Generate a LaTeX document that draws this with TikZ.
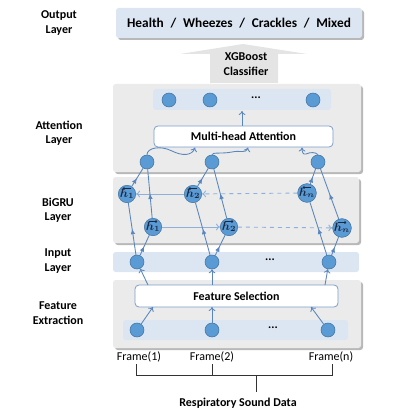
\documentclass[tikz,border=0pt]{standalone}
\usepackage{fontspec}
\setmainfont{Carlito}
\usetikzlibrary{arrows.meta,decorations.markings}
\definecolor{panelgray}{HTML}{EBEBEB}
\definecolor{panelshadow}{HTML}{B8B8B8}
\definecolor{paleblue}{HTML}{DCE6F2}
\definecolor{nodeblue}{HTML}{5B9BD5}
\definecolor{nodeedge}{HTML}{41719C}
\definecolor{linkblue}{HTML}{5A86BE}
\definecolor{lightlink}{HTML}{8EB0DA}
\definecolor{arrowgray}{HTML}{E4E4E4}
\definecolor{hlabel}{HTML}{1B2A44}
\tikzset{
  panel/.style={fill=panelgray,rounded corners=2pt},
  panelshade/.style={fill=panelshadow,rounded corners=2pt},
  bluepanel/.style={fill=paleblue,rounded corners=2pt},
  whitebox/.style={draw=linkblue!80,fill=white,rounded corners=3pt,line width=0.6pt,font=\bfseries\fontsize{9}{10}\selectfont},
  dotnode/.style={circle,fill=nodeblue,draw=nodeedge,line width=0.4pt,minimum size=10.5pt,inner sep=0pt},
  hnode/.style={circle,fill=nodeblue,draw=nodeedge,line width=0.4pt,minimum size=13pt,inner sep=0pt,text=hlabel,font=\fontsize{9}{9}\selectfont\boldmath},
  layerlabel/.style={align=center,font=\bfseries\fontsize{9}{10.8}\selectfont},
  link/.style={draw=linkblue,line width=0.65pt},
  midarr/.style={postaction={decorate},decoration={markings,mark=at position #1 with {\arrow{Latex[length=4pt,width=3.5pt]}}}},
  hlink/.style={draw=lightlink,line width=0.65pt,-{To[length=3pt,width=5pt]}},
  openarr/.style={draw=linkblue,line width=0.65pt,-{To[length=3pt,width=5pt]}},
  ovl/.style={draw=hlabel,line width=0.45pt},
  ellip/.style={font=\bfseries\fontsize{9}{9}\selectfont},
}
\begin{document}
\begin{tikzpicture}[x=0.75pt,y=-0.75pt]
\useasboundingbox (0,0) rectangle (411,417);
% left labels
\node[layerlabel] (lOut) at (59,23) {Output\\Layer};
\node[layerlabel] (lAtt) at (59,133) {Attention\\Layer};
\node[layerlabel] (lBi) at (58,210) {BiGRU\\Layer};
\node[layerlabel] (lIn) at (58,261) {Input\\Layer};
\node[layerlabel] (lFe) at (58,313) {Feature\\Extraction};
% output box
\fill[panelshade] (118,10) rectangle (364,40);
\fill[bluepanel] (116,8) rectangle (362,38);
\node[font=\bfseries\fontsize{10}{11}\selectfont] (outtxt) at (239,23) {Health \;/\; Wheezes \;/\; Crackles \;/\; Mixed};
% big arrow
\fill[arrowgray] (210,83) -- (210,54) -- (180,54) -- (243,44) -- (307,54) -- (278,54) -- (278,83) -- cycle;
\node[layerlabel] (xgb) at (246,64) {XGBoost\\Classifier};
% attention panel
\fill[panelshade] (115,86) rectangle (363,174);
\fill[panel] (113,84) rectangle (361,172);
\fill[bluepanel] (153,89) rectangle (331,110);
\node[dotnode] (a1) at (169,100) {};
\node[dotnode] (a2) at (210,100) {};
\node[ellip] (adots) at (256,98) {...};
\node[dotnode] (a3) at (313,100) {};
\node[whitebox,minimum width=179*0.75pt,minimum height=21*0.75pt] (mha) at (243.5,136.5) {Multi-head Attention};
\coordinate (atop) at (242,111);
\draw[openarr] (mha.north -| atop) -- (atop);
\node[dotnode] (c1) at (147,162) {};
\node[dotnode] (c2) at (212,162) {};
\node[dotnode] (c3) at (318,162) {};
\coordinate (m1) at (195,147.5);
\coordinate (m2) at (248,147.5);
\coordinate (m3) at (302,147.5);
\draw[openarr] (c1.north) .. controls (147,148) and (160,145) .. (172,151) .. controls (182,156) and (192,156) .. (m1);
\draw[openarr] (c2.north) .. controls (212,152) and (222,154) .. (232,152) .. controls (240,150) and (246,154) .. (m2);
\draw[openarr] (c3.north) .. controls (316,152) and (310,152) .. (306,154) .. controls (303,155) and (302,152) .. (m3);
% BiGRU panel
\fill[panelshade] (115,179) rectangle (361,245);
\fill[panel] (113,177) rectangle (359,243);
% input panel
\fill[bluepanel] (113,252) rectangle (359,272);
% feature panel
\fill[panelshade] (115,282) rectangle (363,350);
\fill[panel] (113,280) rectangle (361,348);
\fill[bluepanel] (123,320) rectangle (348,340);
% BiGRU nodes
\node[hnode] (b1) at (127,194) {$h_1$};
\node[hnode] (b2) at (193,194) {$h_2$};
\node[hnode] (bn) at (307,193) {$h_n$};
\node[hnode] (f1) at (153,227) {$h_1$};
\node[hnode] (f2) at (229,227) {$h_2$};
\node[hnode] (fn) at (342,228) {$h_n$};
\foreach \n in {b1,b2,bn}{
  \draw[ovl,-{To[length=1.5pt,width=2.5pt]}] ([xshift=3.2pt,yshift=4.2pt]\n.center) -- ([xshift=-3.2pt,yshift=4.2pt]\n.center);
}
\foreach \n in {f1,f2,fn}{
  \draw[ovl,-{To[length=1.5pt,width=2.5pt]}] ([xshift=-3.2pt,yshift=4.2pt]\n.center) -- ([xshift=3.2pt,yshift=4.2pt]\n.center);
}
% input nodes
\node[dotnode] (i1) at (137,262) {};
\node[dotnode] (i2) at (212,262) {};
\node[ellip] (idots) at (270,260) {...};
\node[dotnode] (i3) at (329,262) {};
% feature nodes
\node[whitebox,minimum width=203*0.75pt,minimum height=22*0.75pt] (fs) at (236.5,296) {Feature Selection};
\node[dotnode] (e1) at (137,330) {};
\node[dotnode] (e2) at (212,330) {};
\node[ellip] (edots) at (273,328) {...};
\node[dotnode] (e3) at (328,330) {};
% BiGRU connections
\draw[hlink] (b2) -- (b1);
\draw[hlink,dashed] (bn) -- (b2);
\draw[hlink] (f1) -- (f2);
\draw[hlink,dashed] (f2) -- (fn);
\foreach \i/\b/\f/\c in {i1/b1/f1/c1,i2/b2/f2/c2,i3/bn/fn/c3}{
  \draw[link,midarr=0.5] (\i) -- (\b);
  \draw[link,midarr=0.45] (\i) -- (\f);
  \draw[link,midarr=0.5] (\f) -- (\c);
  \draw[link,midarr=0.45] (\b) -- (\c);
}
% feature connections
\coordinate (fs1) at (153,307);
\coordinate (fs2) at (212,307);
\coordinate (fs3) at (311,307);
\draw[openarr] (e1) -- (fs1);
\draw[openarr] (e2) -- (fs2);
\draw[openarr] (e3) -- (fs3);
\coordinate (ft1) at (148,285);
\coordinate (ft2) at (212,285);
\coordinate (ft3) at (325,285);
\draw[openarr] (ft1) -- (i1);
\draw[openarr] (ft2) -- (i2);
\draw[openarr] (ft3) -- (i3);
% frames
\node[font=\fontsize{9}{10}\selectfont] (fr1) at (139,357) {Frame(1)};
\node[font=\fontsize{9}{10}\selectfont] (fr2) at (212,357) {Frame(2)};
\node[font=\fontsize{9}{10}\selectfont] (frn) at (331,357) {Frame(n)};
\node[font=\bfseries\fontsize{9}{10}\selectfont] (rsd) at (238,403) {Respiratory Sound Data};
\coordinate (k1) at (136,375);
\coordinate (k2) at (212,375);
\coordinate (k3) at (332,375);
\coordinate (kc) at (256,375);
\draw[black!80,line width=0.6pt] (136,364) -- (k1) -- (k3) -- (332,364);
\draw[black!80,line width=0.6pt] (212,364) -- (k2);
\draw[black!80,line width=0.6pt] (kc) -- (256,392);
\end{tikzpicture}
\end{document}
